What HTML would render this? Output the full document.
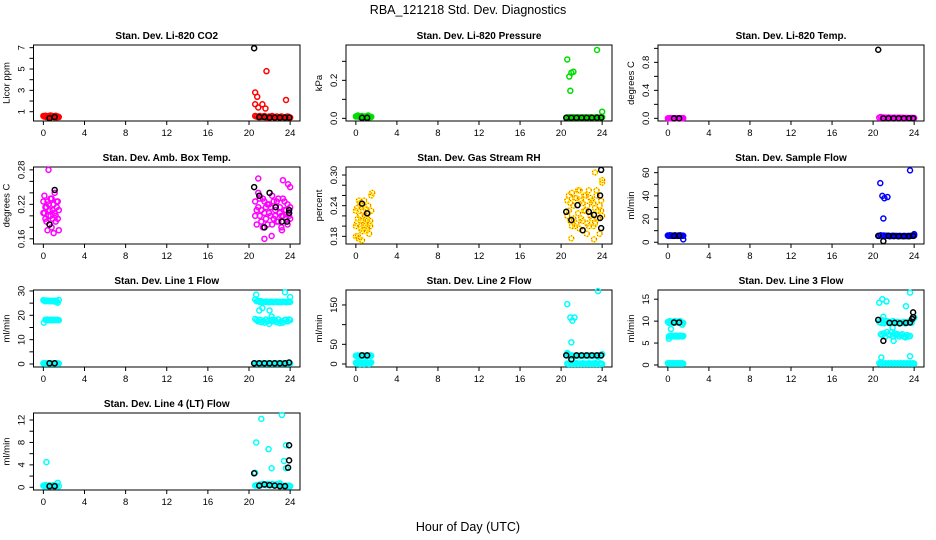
<!DOCTYPE html>
<html><head><meta charset="utf-8"><style>
html,body{margin:0;padding:0;background:#fff;}
svg{display:block;font-family:"Liberation Sans",sans-serif;}
</style></head><body>
<svg id="c" width="936" height="540" xmlns="http://www.w3.org/2000/svg">
<text x="468" y="14" text-anchor="middle" font-size="12.5">RBA_121218  Std. Dev. Diagnostics</text>
<text x="468" y="531" text-anchor="middle" font-size="12.5">Hour of Day (UTC)</text>
</svg>
<script>
// shared hour grid for dense clusters
const H = [0.0,0.1,0.2,0.3,0.4,0.5,0.6,0.7,0.8,0.9,1.0,1.1,1.2,1.3,1.4,1.5,
  20.6,20.75,20.9,21.05,21.2,21.35,21.5,21.65,21.8,21.95,22.1,22.25,22.4,22.55,22.7,22.85,23.0,23.15,23.3,23.45,23.6,23.75,23.9,24.0];
const xTicks = [0,4,8,12,16,20,24];

// CO2
const co2Band = [0.6,0.55,0.62,0.5,0.58,0.6,0.52,0.65,0.55,0.6,0.5,0.58,0.62,0.48,0.55,0.5,0.6,0.55,0.5,0.6,0.5,0.55,0.6,0.5,0.45,0.55,0.5,0.6,0.5,0.45,0.55,0.5,0.5,0.55,0.5,0.45,0.5,0.55,0.5,0.45];
const co2OutH = [20.6,20.8,20.6,20.9,21.3,21.6,21.7,23.6];
const co2OutV = [2.8,2.4,1.7,1.4,1.7,1.3,4.8,2.1];
const co2BlkH = [0.6,1.1,20.5,21.0,21.5,22.0,22.5,23.0,23.5,23.9];
const co2BlkV = [0.4,0.5,6.95,0.5,0.5,0.45,0.45,0.45,0.45,0.45];
// Pressure
const presBand = [0.01,0.012,0.015,0.008,0.01,0.006,0.012,0.005,0.01,0.008,0.006,0.012,0.015,0.01,0.006,0.008,0.005,0.006,0.005,0.004,0.006,0.005,0.004,0.006,0.005,0.004,0.005,0.006,0.005,0.004,0.005,0.006,0.005,0.004,0.005,0.006,0.005,0.004,0.005,0.006];
const presOutH = [20.6,20.8,20.9,21.0,21.2,23.5,24.0];
const presOutV = [0.31,0.22,0.145,0.24,0.245,0.36,0.035];
const presBlkH = [0.6,1.1,20.5,21.0,21.5,22.0,22.5,23.0,23.5,23.9];
const presBlkV = [0.003,0.003,0.003,0.003,0.003,0.003,0.003,0.003,0.003,0.004];
// Li-820 Temp
const tempBand = [0.0,0.002,0.0,0.003,0.0,0.002,0.0,0.003,0.0,0.002,0.0,0.003,0.0,0.002,0.0,0.003,0.01,0.02,0.008,0.012,0.01,0.008,0.012,0.01,0.005,0.008,0.01,0.005,0.008,0.01,0.005,0.008,0.005,0.006,0.005,0.004,0.005,0.006,0.005,0.004];
const tempBlkH = [0.6,1.1,20.5,21.0,21.5,22.0,22.5,23.0,23.5,23.9];
const tempBlkV = [0.0,0.0,0.98,0.0,0.0,0.0,0.0,0.0,0.0,0.0];
// Amb box temp
const ambA = [0.205,0.235,0.215,0.19,0.225,0.2,0.21,0.23,0.18,0.195,0.22,0.24,0.2,0.215,0.225,0.175,0.225,0.21,0.24,0.2,0.19,0.23,0.205,0.215,0.185,0.22,0.2,0.235,0.195,0.21,0.225,0.19,0.215,0.2,0.23,0.21,0.195,0.22,0.205,0.215];
const ambB = [0.225,0.205,0.195,0.215,0.175,0.22,0.185,0.2,0.23,0.21,0.17,0.205,0.19,0.225,0.195,0.21,0.2,0.185,0.215,0.23,0.21,0.18,0.225,0.195,0.22,0.205,0.215,0.185,0.225,0.2,0.19,0.23,0.205,0.18,0.2,0.225,0.21,0.185,0.2,0.195];
const ambOutH = [0.5,20.9,21.5,22.2,23.2,23.3,24.0,23.8];
const ambOutV = [0.28,0.265,0.16,0.165,0.175,0.262,0.25,0.255];
const ambBlkH = [0.6,1.1,20.5,21.0,21.5,22.0,22.6,23.2,23.7,23.9,23.9];
const ambBlkV = [0.185,0.245,0.25,0.235,0.18,0.24,0.215,0.19,0.19,0.205,0.21];
// Gas stream RH
const rhA = [0.23,0.205,0.18,0.25,0.22,0.195,0.24,0.21,0.2,0.235,0.19,0.215,0.225,0.205,0.2,0.26,0.25,0.23,0.21,0.265,0.24,0.2,0.255,0.225,0.27,0.215,0.245,0.26,0.23,0.205,0.27,0.22,0.25,0.2,0.235,0.26,0.215,0.24,0.23,0.285];
const rhB = [0.2,0.235,0.215,0.175,0.245,0.21,0.19,0.23,0.25,0.205,0.22,0.195,0.24,0.185,0.21,0.23,0.22,0.26,0.245,0.2,0.215,0.255,0.205,0.27,0.195,0.25,0.21,0.23,0.26,0.24,0.2,0.255,0.215,0.245,0.205,0.27,0.23,0.185,0.25,0.22];
const rhOutH = [0.0,0.6,1.6,21.0,23.3,24.0,23.2,22.5];
const rhOutV = [0.18,0.172,0.265,0.176,0.305,0.29,0.174,0.185];
const rhBlkH = [0.6,1.1,20.5,21.0,21.6,22.1,22.7,23.2,23.8,23.9,23.9,23.8];
const rhBlkV = [0.244,0.225,0.228,0.212,0.241,0.192,0.228,0.222,0.216,0.196,0.31,0.26];
// Sample flow
const sfBand = [5.8,5.5,6.0,5.6,5.8,5.5,5.7,6.0,5.6,5.5,5.8,5.6,6.0,5.5,5.7,5.6,5.5,6.0,5.5,5.8,5.5,5.6,5.5,5.2,5.5,5.6,5.4,5.5,5.3,5.5,5.4,5.3,5.5,5.4,5.3,5.5,5.4,5.6,5.5,5.8];
const sfOutH = [20.7,20.9,21.1,21.4,21.0,23.6,1.5,24.0];
const sfOutV = [51,40,38,39,20.5,62,2.5,7];
const sfBlkH = [0.6,1.1,20.5,21.0,21.5,22.0,22.5,23.0,23.5,23.9];
const sfBlkV = [5.5,5.5,5.5,1.0,5.5,5.3,5.2,5.2,5.2,5.5];
// Line 1 flow
const l1High = [26.2,26.0,25.8,26.1,25.9,26.0,25.8,26.0,25.9,25.8,26.0,25.7,26.0,25.8,25.2,26.3,26.5,25.8,26.0,25.5,25.8,25.4,25.5,25.6,25.5,25.4,25.6,25.5,25.4,25.5,25.6,25.4,25.5,25.4,25.6,25.5,25.4,25.5,25.6,25.5];
const l1Mid = [null,null,18.2,18.0,18.3,18.1,18.0,18.2,18.1,18.0,18.2,18.1,18.0,18.2,18.1,18.0,18.5,18.0,17.5,18.2,17.2,17.8,17.0,18.3,17.5,16.5,17.8,18.2,17.5,18.0,17.2,18.3,16.8,17.5,17.0,18.0,18.2,17.5,18.3,18.0];
const l1Low = [0.3,0.2,0.3,0.2,0.3,0.2,0.3,0.2,0.3,0.2,0.3,0.2,0.3,0.2,0.3,0.2,0.3,0.2,0.3,0.2,0.3,0.2,0.3,0.2,0.3,0.2,0.3,0.2,0.3,0.2,0.3,0.2,0.3,0.2,0.3,0.2,0.3,0.2,0.3,0.2];
const l1OutH = [20.7,21.0,21.3,22.0,22.2,23.5,24.0,0.05];
const l1OutV = [28.5,22,23,22,19.5,29.5,27.5,17];
const l1BlkH = [0.6,1.1,20.5,21.0,21.5,22.0,22.5,23.0,23.5,23.9];
const l1BlkV = [0.3,0.3,0.3,0.3,0.3,0.3,0.3,0.3,0.3,0.6];
// Line 2 flow
const l2High = [21,20,22,21,20,22,21,20,22,21,20,22,21,20,22,21,25,21,20,22,21,20,22,21,20,22,21,20,22,21,20,22,21,20,22,21,20,22,21,25];
const l2Low = [3,1,5,2,0,4,1,3,0,2,5,1,3,0,2,4,1,0,2,0,1,0,2,0,1,0,2,0,1,0,2,0,1,0,2,0,5,0,1,0];
const l2OutH = [20.6,20.9,21.1,21.3,21.0,23.6,20.6];
const l2OutV = [152,118,110,118,55,185,28];
const l2BlkH = [0.6,1.1,20.5,21.0,21.5,22.0,22.5,23.0,23.5,23.9];
const l2BlkV = [22,22,22,12,22,22,22,22,22,22];
// Line 3 flow
const l3High = [9.8,9.6,10.0,9.7,9.9,9.8,9.6,10.0,9.7,9.8,9.9,9.6,10.0,9.8,9.2,9.6,9.8,9.6,10.2,9.5,9.8,10.0,9.6,9.8,9.5,10.0,9.7,9.6,9.8,9.5,9.7,9.6,9.8,9.5,9.6,9.8,10.0,9.6,10.5,10.8];
const l3Mid = [null,6.5,6.6,6.5,6.7,6.6,6.5,6.6,6.7,6.5,6.6,6.5,6.7,6.6,6.5,6.6,null,7.0,6.8,7.2,6.5,7.5,7.0,6.8,7.5,6.5,7.2,6.8,7.0,6.5,6.8,7.0,6.5,6.3,6.8,6.5,6.6,null,null,null];
const l3Low = [0.4,0.3,0.4,0.3,0.4,0.3,0.4,0.3,0.4,0.3,0.4,0.3,0.4,0.3,0.4,0.3,0.4,0.3,0.4,0.3,0.4,0.3,0.4,0.3,0.4,0.3,0.4,0.3,0.4,0.3,0.4,0.3,0.4,0.3,0.4,0.3,0.4,0.3,0.4,0.3];
const l3OutH = [20.9,20.6,21.3,0.3,0.1,23.2,23.6,23.6,20.8,21.0,22.0,21.9];
const l3OutV = [15,14.2,14.5,8.2,6,13.4,16.5,2,1.7,11,5.5,8.5];
const l3BlkH = [0.6,1.1,20.5,21.0,21.6,22.1,22.6,23.2,23.6,23.8,23.9,23.9];
const l3BlkV = [9.7,9.7,10.3,5.5,9.6,9.6,9.5,9.6,9.7,10.5,12,10.9];
// Line 4 flow
const l4Band = [0.3,0.2,0.4,0.3,0.2,0.3,0.4,0.2,0.3,0.2,0.4,0.3,0.2,0.3,0.8,0.2,0.3,0.4,0.3,0.5,0.4,0.6,0.5,0.4,0.6,0.5,0.4,0.6,0.5,0.4,0.6,0.5,0.7,0.4,0.3,0.2,0.3,0.2,0.3,0.2];
const l4OutH = [0.3,20.7,21.2,21.9,22.2,23.2,23.4,23.6,23.6,20.6];
const l4OutV = [4.5,8,12.2,6.8,3.4,12.9,4.7,7.5,3.4,2.6];
const l4BlkH = [0.6,1.1,20.5,21.0,21.5,22.0,22.5,23.0,23.5,23.9,23.9,23.8];
const l4BlkV = [0.2,0.2,2.5,0.3,0.5,0.4,0.3,0.2,0.2,7.5,4.8,3.5];

const panels = [
 {name:'co2',title:'Stan. Dev. Li-820 CO2',ylab:'Licor ppm',col:0,row:0,ylim:[0.13,7.25],ticks:[1,2,3,4,5,6,7],labels:[1,3,5,7],color:'#ff0000',bands:[co2Band],outH:co2OutH,outV:co2OutV,bH:co2BlkH,bV:co2BlkV},
 {name:'pressure',title:'Stan. Dev. Li-820 Pressure',ylab:'kPa',col:1,row:0,ylim:[-0.014,0.386],ticks:[0,0.1,0.2,0.3],labels:['0.0','0.2'],color:'#00dd00',bands:[presBand],outH:presOutH,outV:presOutV,bH:presBlkH,bV:presBlkV},
 {name:'temp',title:'Stan. Dev. Li-820 Temp.',ylab:'degrees C',col:2,row:0,ylim:[-0.038,1.048],ticks:[0,0.2,0.4,0.6,0.8,1.0],labels:['0.0','0.4','0.8'],color:'#ff00ff',bands:[tempBand],outH:[],outV:[],bH:tempBlkH,bV:tempBlkV},
 {name:'amb-box-temp',title:'Stan. Dev. Amb. Box Temp.',ylab:'degrees C',col:0,row:1,ylim:[0.151,0.285],ticks:[0.16,0.18,0.2,0.22,0.24,0.26,0.28],labels:['0.16','0.22','0.28'],color:'#ff00ff',bands:[ambA,ambB],outH:ambOutH,outV:ambOutV,bH:ambBlkH,bV:ambBlkV},
 {name:'gas-rh',title:'Stan. Dev. Gas Stream RH',ylab:'percent',col:1,row:1,ylim:[0.165,0.3157],ticks:[0.18,0.2,0.22,0.24,0.26,0.28,0.3],labels:['0.18','0.24','0.30'],color:'#ffee00',dash:'#ff2000',bands:[rhA,rhB],outH:rhOutH,outV:rhOutV,bH:rhBlkH,bV:rhBlkV},
 {name:'sample-flow',title:'Stan. Dev. Sample Flow',ylab:'ml/min',col:2,row:1,ylim:[-1.5,64.9],ticks:[0,10,20,30,40,50,60],labels:[0,20,40,60],color:'#0000ff',bands:[sfBand],outH:sfOutH,outV:sfOutV,bH:sfBlkH,bV:sfBlkV},
 {name:'line1-flow',title:'Stan. Dev. Line 1 Flow',ylab:'ml/min',col:0,row:2,ylim:[-1.23,30.4],ticks:[0,5,10,15,20,25,30],labels:[0,10,20,30],color:'#00ffff',bands:[l1High,l1Mid,l1Low],outH:l1OutH,outV:l1OutV,bH:l1BlkH,bV:l1BlkV},
 {name:'line2-flow',title:'Stan. Dev. Line 2 Flow',ylab:'ml/min',col:1,row:2,ylim:[-7.6,188],ticks:[0,50,100,150],labels:[0,50,150],color:'#00ffff',bands:[l2High,l2Low],outH:l2OutH,outV:l2OutV,bH:l2BlkH,bV:l2BlkV},
 {name:'line3-flow',title:'Stan. Dev. Line 3 Flow',ylab:'ml/min',col:2,row:2,ylim:[-0.46,17.1],ticks:[0,5,10,15],labels:[0,5,10,15],color:'#00ffff',bands:[l3High,l3Mid,l3Low],outH:l3OutH,outV:l3OutV,bH:l3BlkH,bV:l3BlkV},
 {name:'line4-flow',title:'Stan. Dev. Line 4 (LT) Flow',ylab:'ml/min',col:0,row:3,ylim:[-0.48,13.25],ticks:[0,2,4,6,8,10,12],labels:[0,4,8,12],color:'#00ffff',bands:[l4Band],outH:l4OutH,outV:l4OutV,bH:l4BlkH,bV:l4BlkV}
];
const colL=[33.5,346,658], colR=[300,612,924], rowT=[45,167,290,413], rowB=[121,244,367,490];
const XLIM=[-0.96,24.96];
const NS='http://www.w3.org/2000/svg';
const svg=document.getElementById('c');
function mk(tag,attrs,parent){const e=document.createElementNS(NS,tag);for(const k in attrs)e.setAttribute(k,attrs[k]);(parent||svg).appendChild(e);return e;}

panels.forEach(p=>{
  const L=colL[p.col],R=colR[p.col],T=rowT[p.row],B=rowB[p.row];
  const xs=v=>L+(v-XLIM[0])/(XLIM[1]-XLIM[0])*(R-L);
  const ys=v=>B-(v-p.ylim[0])/(p.ylim[1]-p.ylim[0])*(B-T);
  const g=mk('g',{});
  
  
  const t=mk('text',{x:(L+R)/2,y:T-6,'text-anchor':'middle','font-size':'10','font-weight':'bold'},g);
  t.textContent=p.title;
  
  
  const box=mk('rect',{x:L,y:T,width:R-L,height:B-T,fill:'none',stroke:'#000','stroke-width':1},g);
  
  
  const xa=mk('g',{},g);
  
  
  mk('line',{x1:xs(xTicks[0]),x2:xs(xTicks[xTicks.length-1]),y1:B,y2:B,stroke:'#000'},xa);
  xTicks.forEach(v=>{
    mk('line',{x1:xs(v),x2:xs(v),y1:B,y2:B+4,stroke:'#000'},xa);
    const tl=mk('text',{x:xs(v),y:B+15,'text-anchor':'middle','font-size':'9.5'},xa);
    tl.textContent=v;
    
    
  });
  const ya=mk('g',{},g);
  
  
  mk('line',{x1:L,x2:L,y1:ys(p.ticks[0]),y2:ys(p.ticks[p.ticks.length-1]),stroke:'#000'},ya);
  p.ticks.forEach(v=>mk('line',{x1:L-4,x2:L,y1:ys(v),y2:ys(v),stroke:'#000'},ya));
  p.labels.forEach(v=>{
    const yy=ys(+v);
    const tl=mk('text',{x:L-9,y:yy,'text-anchor':'middle','font-size':'9.5',transform:`rotate(-90 ${L-9} ${yy})`},ya);
    tl.textContent=v;
    
    
  });
  const yt=mk('text',{x:L-24,y:(T+B)/2,'text-anchor':'middle','font-size':'9.5',transform:`rotate(-90 ${L-24} ${(T+B)/2})`},g);
  yt.textContent=p.ylab;
  
  
  const pts=mk('g',{fill:'none','stroke-width':1.5},g);
  
  
  const dot=(h,v,col)=>{
    const c=mk('circle',{cx:xs(h),cy:ys(v),r:2.5,stroke:col},pts);
    
    
    if(p.dash&&col===p.color){mk('circle',{cx:xs(h),cy:ys(v),r:2.5,stroke:p.dash,'stroke-width':1,'stroke-dasharray':'0.8 2'},pts);}
  };
  p.bands.forEach(b=>b.forEach((v,i)=>{if(v!==null)dot(H[i],v,p.color);}));
  p.outH.forEach((h,i)=>dot(h,p.outV[i],p.color));
  p.bH.forEach((h,i)=>{
    const c=mk('circle',{cx:xs(h),cy:ys(p.bV[i]),r:2.5,stroke:'#000'},pts);
    
    
  });
});
</script>
</body></html>
